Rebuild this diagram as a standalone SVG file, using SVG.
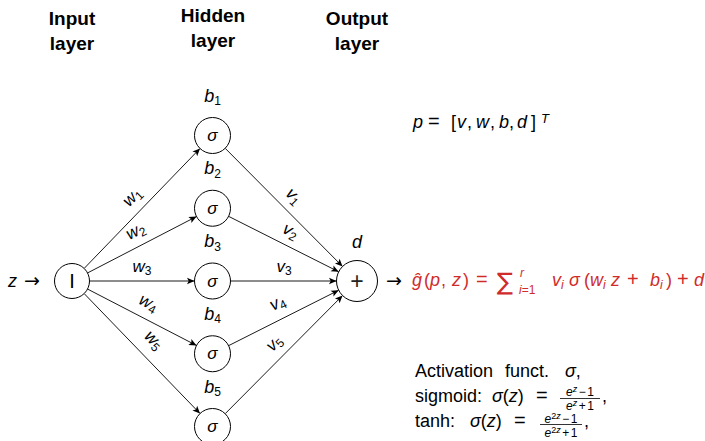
<svg xmlns="http://www.w3.org/2000/svg" width="705" height="441" viewBox="0 0 705 441">
<defs>
<marker id="arr" viewBox="-8 -4 9 8" refX="0" refY="0" markerWidth="9" markerHeight="8" markerUnits="userSpaceOnUse" orient="auto">
<path d="M0,0 L-7.5,-3.3 L-5.8,0 L-7.5,3.3 Z" fill="#000"/>
</marker>
</defs>
<style>
text{font-family:"Liberation Sans",Arial,sans-serif;fill:#000}
.hd{font-weight:bold;font-size:19px;text-anchor:middle}
.m{font-style:italic}
.lbl{font-style:italic;font-size:17px;text-anchor:middle}
.sub{font-style:normal;font-size:12px}
.nd{fill:#fff;stroke:#000;stroke-width:1}
.e{stroke:#000;stroke-width:0.9;fill:none;marker-end:url(#arr)}
.red, .red tspan{fill:#d02b2b}
.t{font-size:18px}
.fr{font-size:12px;text-anchor:middle}
</style>
<rect width="705" height="441" fill="#fff"/>

<g id="headers">
<text class="hd" x="72" y="25">Input</text>
<text class="hd" x="72" y="50">layer</text>
<text class="hd" x="213" y="22">Hidden</text>
<text class="hd" x="213" y="47">layer</text>
<text class="hd" x="357" y="25">Output</text>
<text class="hd" x="357" y="50">layer</text>
</g>

<g id="connectors">
<line class="e" x1="84.16" y1="268.41" x2="200.0" y2="148.45"/>
<line class="e" x1="87.54" y1="272.95" x2="196.52" y2="216.53"/>
<line class="e" x1="89.5" y1="281" x2="194.5" y2="281"/>
<line class="e" x1="87.54" y1="289.05" x2="196.52" y2="345.47"/>
<line class="e" x1="84.16" y1="293.59" x2="200.0" y2="413.55"/>
<line class="e" x1="225.18" y1="148.27" x2="342.55" y2="266.46"/>
<line class="e" x1="228.58" y1="216.34" x2="338.69" y2="271.78"/>
<line class="e" x1="230.5" y1="281" x2="336.5" y2="281"/>
<line class="e" x1="228.58" y1="345.66" x2="338.69" y2="290.22"/>
<line class="e" x1="225.18" y1="413.73" x2="342.55" y2="295.54"/>
<text class="lbl" transform="translate(133,198) rotate(-46)" y="4">w<tspan class="sub" dy="3">1</tspan></text>
<text class="lbl" transform="translate(136,232) rotate(-27.4)" y="4">w<tspan class="sub" dy="3">2</tspan></text>
<text class="lbl" transform="translate(142,268)" y="4">w<tspan class="sub" dy="3">3</tspan></text>
<text class="lbl" transform="translate(148,304) rotate(27.4)" y="4">w<tspan class="sub" dy="3">4</tspan></text>
<text class="lbl" transform="translate(153,341) rotate(46)" y="4">w<tspan class="sub" dy="3">5</tspan></text>
<text class="lbl" transform="translate(293,197) rotate(45.2)" y="4">v<tspan class="sub" dy="3">1</tspan></text>
<text class="lbl" transform="translate(290,232) rotate(26.7)" y="4">v<tspan class="sub" dy="3">2</tspan></text>
<text class="lbl" transform="translate(284,268)" y="4">v<tspan class="sub" dy="3">3</tspan></text>
<text class="lbl" transform="translate(278,304) rotate(-26.7)" y="4">v<tspan class="sub" dy="3">4</tspan></text>
<text class="lbl" transform="translate(275,344) rotate(-45.2)" y="4">v<tspan class="sub" dy="3">5</tspan></text>
</g>

<g id="input">
<text class="t" x="8" y="287"><tspan class="m">z</tspan></text>
<text x="24" y="287" style="font-family:'DejaVu Sans',sans-serif;font-size:19px">→</text>
<circle class="nd" cx="72" cy="281" r="17.5"/>
<text x="72" y="288" style="font-size:20px;text-anchor:middle">I</text>
</g>

<g id="h1">
<text class="t" x="212.5" y="101.5" text-anchor="middle"><tspan class="m">b</tspan><tspan font-size="12" dy="3.5">1</tspan></text>
<circle class="nd" cx="212.5" cy="135.5" r="18"/>
<text class="m" x="212.5" y="141" style="font-size:17px;text-anchor:middle">σ</text>
</g>
<g id="h2">
<text class="t" x="212.5" y="174.25" text-anchor="middle"><tspan class="m">b</tspan><tspan font-size="12" dy="3.5">2</tspan></text>
<circle class="nd" cx="212.5" cy="208.25" r="18"/>
<text class="m" x="212.5" y="213.75" style="font-size:17px;text-anchor:middle">σ</text>
</g>
<g id="h3">
<text class="t" x="212.5" y="247" text-anchor="middle"><tspan class="m">b</tspan><tspan font-size="12" dy="3.5">3</tspan></text>
<circle class="nd" cx="212.5" cy="281" r="18"/>
<text class="m" x="212.5" y="286.5" style="font-size:17px;text-anchor:middle">σ</text>
</g>
<g id="h4">
<text class="t" x="212.5" y="319.75" text-anchor="middle"><tspan class="m">b</tspan><tspan font-size="12" dy="3.5">4</tspan></text>
<circle class="nd" cx="212.5" cy="353.75" r="18"/>
<text class="m" x="212.5" y="359.25" style="font-size:17px;text-anchor:middle">σ</text>
</g>
<g id="h5">
<text class="t" x="212.5" y="392.5" text-anchor="middle"><tspan class="m">b</tspan><tspan font-size="12" dy="3.5">5</tspan></text>
<circle class="nd" cx="212.5" cy="426.5" r="18"/>
<text class="m" x="212.5" y="432" style="font-size:17px;text-anchor:middle">σ</text>
</g>

<g id="output">
<text class="t m" x="357" y="248" text-anchor="middle">d</text>
<circle class="nd" cx="357" cy="281" r="20.5"/>
<text x="357" y="289" style="font-size:23px;text-anchor:middle;fill:#222">+</text>
</g>

<g id="param">
<text class="t" y="128"><tspan class="m" x="413">p</tspan><tspan x="428" font-size="20">=</tspan><tspan x="451">[</tspan><tspan class="m" x="457">v</tspan><tspan x="467">,</tspan><tspan class="m" x="476">w</tspan><tspan x="490">,</tspan><tspan class="m" x="499">b</tspan><tspan x="509">,</tspan><tspan class="m" x="517">d</tspan><tspan x="531">]</tspan></text>
<text class="m" x="541" y="123" font-size="13">T</text>
</g>

<g id="result">
<text x="386" y="287" style="font-family:'DejaVu Sans',sans-serif;font-size:19px">→</text>
<text class="t red" y="286"><tspan class="m" x="412">ĝ</tspan><tspan x="424">(</tspan><tspan class="m" x="430">p</tspan><tspan x="441">,</tspan><tspan class="m" x="452">z</tspan><tspan x="463">)</tspan><tspan x="476" font-size="20">=</tspan></text>
<text class="red" x="497" y="290" style="font-family:'DejaVu Sans',sans-serif;font-size:24px">∑</text>
<text class="red m" x="520" y="277" style="font-size:12px">r</text>
<text class="red" x="519" y="294" style="font-size:12px"><tspan class="m">i</tspan>=1</text>
<text class="t red" y="286"><tspan class="m" x="552">v</tspan><tspan class="m" font-size="12" dy="3">i</tspan><tspan class="m" x="569" dy="-3">σ</tspan><tspan x="584">(</tspan><tspan class="m" x="590">w</tspan><tspan class="m" font-size="12" dy="3">i</tspan><tspan class="m" x="611" dy="-3">z</tspan><tspan x="627" font-size="20">+</tspan><tspan class="m" x="650">b</tspan><tspan class="m" font-size="12" dy="3">i</tspan><tspan x="666" dy="-3">)</tspan><tspan x="677" font-size="20">+</tspan><tspan class="m" x="694">d</tspan></text>
</g>

<g id="activation">
<text class="t" y="377"><tspan x="415">Activation</tspan><tspan x="505">funct.</tspan><tspan class="m" x="565">σ</tspan>,</text>
<text class="t" y="402"><tspan x="415">sigmoid:</tspan><tspan class="m" x="492">σ</tspan>(<tspan class="m">z</tspan>)<tspan x="536" font-size="20">=</tspan></text>
<text class="fr" x="580" y="396"><tspan class="m">e</tspan><tspan class="m" font-size="9" dy="-4">z</tspan><tspan dy="4" dx="1.5">−</tspan><tspan dx="1.5">1</tspan></text>
<line x1="560" y1="398.5" x2="600" y2="398.5" stroke="#000" stroke-width="0.8"/>
<text class="fr" x="580" y="409.5"><tspan class="m">e</tspan><tspan class="m" font-size="9" dy="-4">z</tspan><tspan dy="4" dx="1.5">+</tspan><tspan dx="1.5">1</tspan></text>
<text class="t" x="602" y="402">,</text>
<text class="t" y="427"><tspan x="415">tanh:</tspan><tspan class="m" x="470">σ</tspan>(<tspan class="m">z</tspan>)<tspan x="514" font-size="20">=</tspan></text>
<text class="fr" x="561" y="422.5"><tspan class="m">e</tspan><tspan font-size="9" dy="-4">2</tspan><tspan class="m" font-size="9">z</tspan><tspan dy="4" dx="1.5">−</tspan><tspan dx="1.5">1</tspan></text>
<line x1="540" y1="424.5" x2="582" y2="424.5" stroke="#000" stroke-width="0.8"/>
<text class="fr" x="561" y="437"><tspan class="m">e</tspan><tspan font-size="9" dy="-4">2</tspan><tspan class="m" font-size="9">z</tspan><tspan dy="4" dx="1.5">+</tspan><tspan dx="1.5">1</tspan></text>
<text class="t" x="584" y="427">,</text>
</g>
</svg>
